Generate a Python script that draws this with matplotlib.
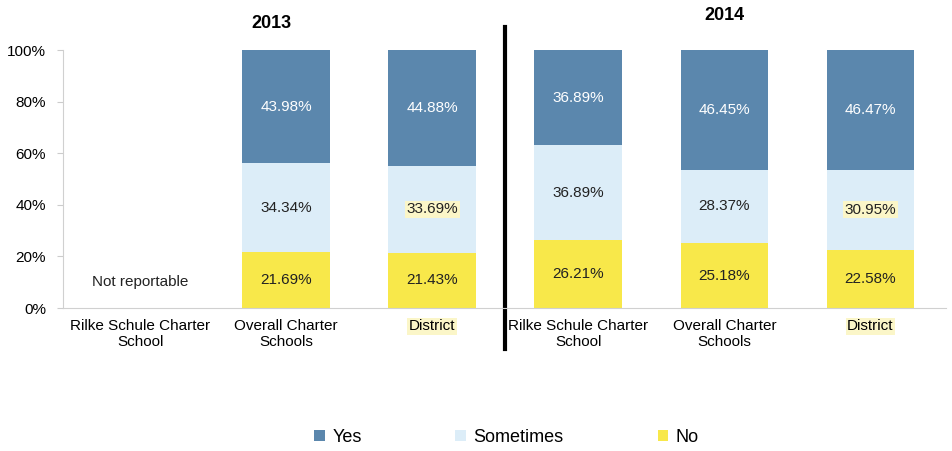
import matplotlib.pyplot as plt
import numpy as np

plt.rcParams['font.family'] = ['Liberation Sans Narrow', 'Liberation Sans', 'DejaVu Sans']

categories = ['Rilke Schule Charter\nSchool', 'Overall Charter\nSchools', 'District',
              'Rilke Schule Charter\nSchool', 'Overall Charter\nSchools', 'District']
# 2013 Rilke Schule value not reportable -> nan
no_vals = [np.nan, 21.69, 21.43, 26.21, 25.18, 22.58]
sometimes_vals = [np.nan, 34.34, 33.69, 36.89, 28.37, 30.95]
yes_vals = [np.nan, 43.98, 44.88, 36.89, 46.45, 46.47]
years = ['2013', '2014']

c_yes = '#5b87ad'
c_some = '#dcedf8'
c_no = '#f8e84a'

fig = plt.figure(figsize=(9.52, 4.51), dpi=100)
ax = fig.add_axes([0.066, 0.317, 0.928, 0.572])

x = np.arange(len(categories))
w = 0.6
no = np.array(no_vals)
some = np.array(sometimes_vals)
yes = np.array(yes_vals)

ax.bar(x, no, w, color=c_no, label='No')
ax.bar(x, some, w, bottom=no, color=c_some, label='Sometimes')
ax.bar(x, yes, w, bottom=no + some, color=c_yes, label='Yes')

hl = dict(boxstyle='square,pad=0.1', fc='#fbf6c8', ec='none')
for i in range(len(x)):
    if np.isnan(no[i]):
        continue
    ax.text(x[i], no[i] / 2, f'{no[i]:.2f}%', ha='center', va='center',
            fontsize=11, color='#222222')
    ax.text(x[i], no[i] + some[i] / 2, f'{some[i]:.2f}%', ha='center', va='center',
            fontsize=11, color='#222222', bbox=hl if i in (2, 5) else None)
    ax.text(x[i], no[i] + some[i] + yes[i] / 2, f'{yes[i]:.2f}%', ha='center',
            va='center', fontsize=11, color='white')

ax.text(x[0], 10, 'Not reportable', ha='center', va='center', fontsize=11, color='#222222')

ax.set_xlim(-0.53, 5.52)
ax.set_ylim(0, 100)
ax.set_yticks(range(0, 101, 20))
ax.set_yticklabels([f'{v}%' for v in range(0, 101, 20)], fontsize=11)
ax.set_xticks(x)
ax.set_xticklabels(categories, fontsize=11)
for i, lbl in enumerate(ax.get_xticklabels()):
    if i in (2, 5):
        lbl.set_bbox(hl)
ax.tick_params(axis='x', length=0, pad=8)
ax.tick_params(axis='y', length=4, color='#cccccc', pad=8)
for s in ('top', 'right'):
    ax.spines[s].set_visible(False)
for s in ('left', 'bottom'):
    ax.spines[s].set_color('#d0d0d0')

# divider between the two years
ax.plot([2.5, 2.5], [-16, 109], color='black', lw=3, clip_on=False)

ax.text(0.9, 107, years[0], ha='center', va='bottom', fontsize=13, fontweight='bold')
ax.text(4.0, 110, years[1], ha='center', va='bottom', fontsize=13, fontweight='bold')

handles, labels = ax.get_legend_handles_labels()
order = [2, 1, 0]
fig.legend([handles[k] for k in order], [labels[k] for k in order],
           loc='center', bbox_to_anchor=(0.532, 0.03), ncol=3, frameon=False,
           fontsize=13, handlelength=0.6, handleheight=0.6, handletextpad=0.4,
           columnspacing=5.2)

fig.savefig('out.png', dpi=100)
